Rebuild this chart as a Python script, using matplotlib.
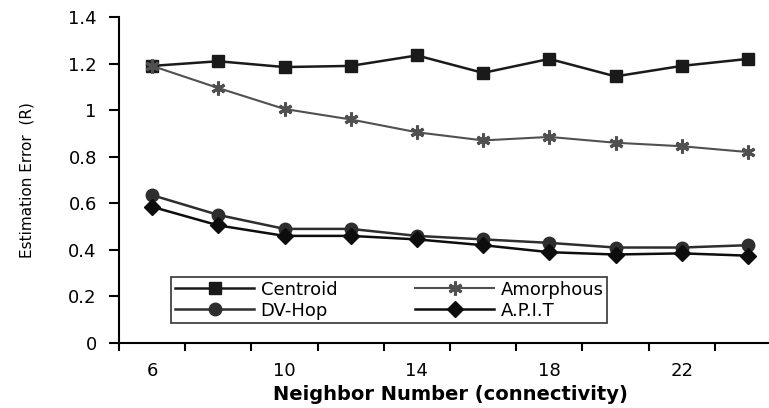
import numpy as np
import matplotlib.pyplot as plt

plt.rcParams['font.family'] = ['DejaVu Sans']

# neighbour numbers (categories) and estimation errors
neighbors = [6, 8, 10, 12, 14, 16, 18, 20, 22, 24]
centroid = [1.19, 1.21, 1.185, 1.19, 1.235, 1.16, 1.22, 1.145, 1.19, 1.22]
amorphous = [1.19, 1.095, 1.005, 0.96, 0.905, 0.87, 0.885, 0.86, 0.845, 0.82]
dv_hop = [0.635, 0.55, 0.49, 0.49, 0.46, 0.445, 0.43, 0.41, 0.41, 0.42]
apit = [0.585, 0.505, 0.46, 0.46, 0.445, 0.42, 0.39, 0.38, 0.385, 0.375]
y_ticks = [0, 0.2, 0.4, 0.6, 0.8, 1, 1.2, 1.4]
y_tick_labels = ['0', '0.2', '0.4', '0.6', '0.8', '1', '1.2', '1.4']

fig = plt.figure(figsize=(7.69, 4.08), dpi=100)
# axis runs a little past the right edge like in the original
ax = fig.add_axes([119 / 769, 65 / 408, 662 / 769, 326 / 408])

x = np.arange(len(neighbors))
h1, = ax.plot(x, centroid, color='#1a1a1a', lw=1.8, marker='s', ms=9, label='Centroid')
h2, = ax.plot(x, amorphous, color='#505050', lw=1.5, marker=(6, 2, 0), ms=10,
              mew=2.2, label='Amorphous')
h3, = ax.plot(x, dv_hop, color='#2e2e2e', lw=1.8, marker='o', ms=9, label='DV-Hop')
h4, = ax.plot(x, apit, color='#0d0d0d', lw=1.8, marker='D', ms=8, label='A.P.I.T')

ax.set_xlim(-0.5, len(neighbors) - 0.5)
ax.set_ylim(0, 1.4)
ax.set_yticks(y_ticks, y_tick_labels)

# ticks between categories, labels on every other category
ax.set_xticks(np.arange(-0.5, len(neighbors), 1))
ax.set_xticklabels([])
ax.set_xticks(x[::2], [str(n) for n in neighbors[::2]], minor=True)
ax.tick_params(axis='x', which='major', length=6, width=1.5, direction='out')
ax.tick_params(axis='x', which='minor', length=0, pad=14, labelsize=13)
ax.tick_params(axis='y', length=7, width=1.5, pad=9, labelsize=13)

for side in ['top', 'right']:
    ax.spines[side].set_visible(False)
for side in ['left', 'bottom']:
    ax.spines[side].set_linewidth(1.5)

ax.set_xlabel('Neighbor Number (connectivity)', fontsize=14, fontweight='bold', labelpad=3)
ax.set_ylabel('Estimation Error  (R)', fontsize=11, labelpad=24)

leg = ax.legend([h1, h3, h2, h4], ['Centroid', 'DV-Hop', 'Amorphous', 'A.P.I.T'],
                ncol=2, loc='lower left', bbox_to_anchor=(0.079, 0.061),
                fontsize=13, frameon=True, fancybox=False,
                handlelength=4.4, borderpad=0.2, labelspacing=0.15, handletextpad=0.35,
                columnspacing=4.3, borderaxespad=0)
leg.get_frame().set_edgecolor('black')
leg.get_frame().set_linewidth(1.2)

plt.savefig('out.png', dpi=100)
